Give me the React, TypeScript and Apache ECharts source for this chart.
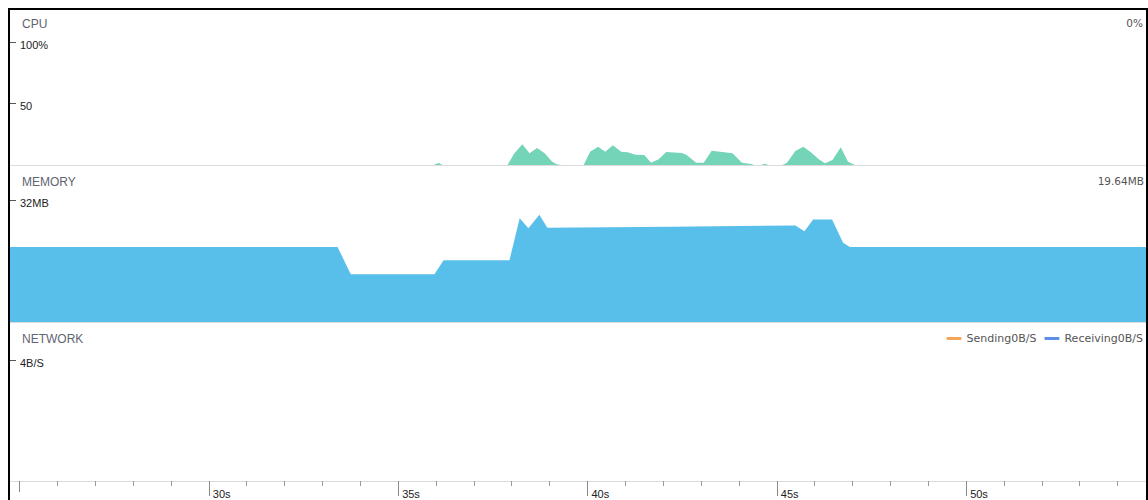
import React, { useEffect, useRef } from "react";
import * as echarts from "echarts";

if (typeof document !== "undefined") {
  document.documentElement.style.overflow = "hidden";
  document.body.style.overflow = "hidden";
  document.body.style.margin = "8px 0 0 8px";
}

// ---- time axis (seconds) ----
const X_MIN = 24.75;
const X_MAX = 54.75;
const firstTickSeconds = [25];
const minorTickSeconds = [26, 27, 28, 29, 31, 32, 33, 34, 36, 37, 38, 39, 41, 42, 43, 44, 46, 47, 48, 49, 51, 52, 53, 54];
const majorTickSeconds = [30, 35, 40, 45, 50];

// ---- CPU (%) ----
const cpuTimes = [24.75, 35.94, 36.07, 36.17, 37.89, 38.07, 38.28, 38.47, 38.67, 38.87, 39.07, 39.19, 39.31, 39.9, 40.07, 40.28, 40.47, 40.67, 40.89, 41.06, 41.27, 41.5, 41.68, 41.88, 42.08, 42.5, 42.62, 42.87, 43.07, 43.28, 43.83, 44.08, 44.32, 44.4, 44.58, 44.69, 44.78, 45.15, 45.27, 45.49, 45.7, 45.9, 46.1, 46.27, 46.47, 46.69, 46.88, 47.06, 54.75];
const cpuValues = [0, 0, 1.6, 0, 0, 9.5, 16.8, 9.5, 13.8, 9.5, 2.7, 0.6, 0, 0, 10.8, 14.9, 10.8, 16.0, 10.8, 10.3, 8.4, 8.1, 1.9, 4.6, 10.6, 9.8, 8.1, 1.9, 1.9, 11.6, 9.5, 1.9, 0.8, 0, 0, 1.1, 0, 0, 1.9, 11.4, 14.9, 10.3, 4.9, 1.4, 4.1, 14.4, 2.7, 0, 0];
const cpuTicks = [50, 100];

// ---- Memory (MB) ----
const memTimes = [24.75, 33.4, 33.75, 35.96, 36.2, 37.94, 38.21, 38.44, 38.73, 38.94, 42.2, 45.49, 45.73, 45.96, 46.46, 46.75, 46.93, 54.75];
const memValues = [19.67, 19.67, 12.5, 12.5, 16.2, 16.2, 27.2, 24.6, 28.1, 24.7, 25.0, 25.3, 23.8, 26.9, 26.9, 20.8, 19.64, 19.64];
const memTicks = [16, 32];

// ---- Network (B/S) ----
const networkNames = ["Sending", "Receiving"];
const sendingValues: number[][] = [];
const receivingValues: number[][] = [];
const networkCurrent = [0, 0];
const netTicks = [4];

const TITLE_FONT = '"Liberation Sans", Arial, sans-serif';
const SMALL_FONT = '"DejaVu Sans", sans-serif';

export default function App() {
  const ref = useRef<HTMLDivElement>(null);

  useEffect(() => {
    document.documentElement.style.overflow = "hidden";
    document.body.style.overflow = "hidden";
    document.body.style.margin = "8px 0 0 8px";
    const chart = echarts.init(ref.current!, null, { renderer: "svg" });

    const baseX = (gridIndex: number) => ({
      type: "value",
      gridIndex,
      position: "bottom",
      min: X_MIN,
      max: X_MAX,
      axisLine: { show: true, lineStyle: { color: "#dcdcdc", width: 1 } },
      axisTick: { show: false },
      axisLabel: { show: false },
      splitLine: { show: false },
    });

    const baseY = (gridIndex: number, max: number, ticks: number[], fmt: (v: number) => string) => ({
      type: "value",
      gridIndex,
      min: 0,
      max,
      position: "left",
      axisLine: { show: false },
      axisTick: { show: true, inside: true, length: 6, lineStyle: { color: "#555" }, customValues: ticks },
      axisLabel: {
        show: true,
        inside: true,
        margin: 10,
        customValues: ticks,
        formatter: (v: number) => `{a|${fmt(v)}}`,
        rich: {
          a: {
            color: "#222",
            fontSize: 11,
            fontFamily: TITLE_FONT,
            padding: [5, 0, 0, 0],
          },
        },
      },
      splitLine: { show: false },
    });

    const lastCpu = cpuValues[cpuValues.length - 1];
    const lastMem = memValues[memValues.length - 1];

    const option: any = {
      animation: false,
      grid: [
        { left: 0, right: 0, top: 32, height: 123 },
        { left: 0, right: 0, top: 190, height: 122 },
        { left: 0, right: 0, top: 350, height: 121 },
      ],
      xAxis: [
        baseX(0),
        baseX(1),
        {
          ...baseX(2),
          axisTick: { show: true, length: 5, lineStyle: { color: "#999" }, customValues: minorTickSeconds },
        },
        {
          ...baseX(2),
          axisLine: { show: false },
          axisTick: { show: true, length: 15, lineStyle: { color: "#888" }, customValues: majorTickSeconds },
          axisLabel: {
            show: true,
            customValues: majorTickSeconds,
            align: "left",
            margin: 7,
            padding: [0, 0, 0, 4],
            color: "#222",
            fontSize: 11,
            fontFamily: TITLE_FONT,
            formatter: (v: number) => `${v}s`,
          },
        },
        {
          ...baseX(2),
          axisLine: { show: false },
          axisTick: { show: true, length: 11, lineStyle: { color: "#888" }, customValues: firstTickSeconds },
        },
      ],
      yAxis: [
        baseY(0, 100, cpuTicks, (v) => (v === 100 ? "100%" : String(v))),
        baseY(1, 32, memTicks, (v) => (v === 32 ? "32MB" : String(v))),
        baseY(2, 4, netTicks, (v) => `${v}B/S`),
      ],
      legend: {
        data: networkNames,
        right: 3,
        top: 323,
        padding: 0,
        icon: "roundRect",
        itemWidth: 15,
        itemHeight: 3,
        itemGap: 8,
        textStyle: { color: "#555", fontSize: 11, fontFamily: SMALL_FONT },
        formatter: (name: string) => `${name}${networkCurrent[networkNames.indexOf(name)]}B/S`,
      },
      graphic: [
        { type: "text", x: 12, y: 13.5, style: { text: "CPU", fill: "#5f6470", fontSize: 12, fontFamily: TITLE_FONT, verticalAlign: "middle" } },
        { type: "text", x: 12, y: 171.5, style: { text: "MEMORY", fill: "#5f6470", fontSize: 12, fontFamily: TITLE_FONT, verticalAlign: "middle" } },
        { type: "text", x: 12, y: 328.5, style: { text: "NETWORK", fill: "#5f6470", fontSize: 12, fontFamily: TITLE_FONT, verticalAlign: "middle" } },
        { type: "text", x: 1133, y: 12.5, style: { text: `${lastCpu}%`, fill: "#555", fontSize: 10.5, fontFamily: SMALL_FONT, align: "right", verticalAlign: "middle" } },
        { type: "text", x: 1134, y: 170.5, style: { text: `${lastMem}MB`, fill: "#555", fontSize: 10.5, fontFamily: SMALL_FONT, align: "right", verticalAlign: "middle" } },
      ],
      series: [
        {
          name: "CPU",
          type: "line",
          xAxisIndex: 0,
          yAxisIndex: 0,
          data: cpuTimes.map((t, i) => [t, cpuValues[i]]),
          symbol: "none",
          silent: true,
          lineStyle: { width: 0, color: "#74d4b7" },
          itemStyle: { color: "#74d4b7" },
          areaStyle: { color: "#74d4b7", opacity: 1 },
        },
        {
          name: "Memory",
          type: "line",
          xAxisIndex: 1,
          yAxisIndex: 1,
          data: memTimes.map((t, i) => [t, memValues[i]]),
          symbol: "none",
          silent: true,
          lineStyle: { width: 0, color: "#58bfeb" },
          itemStyle: { color: "#58bfeb" },
          areaStyle: { color: "#58bfeb", opacity: 1 },
        },
        {
          name: "Sending",
          type: "line",
          xAxisIndex: 2,
          yAxisIndex: 2,
          data: sendingValues,
          symbol: "none",
          itemStyle: { color: "#f6a65b" },
          lineStyle: { color: "#f6a65b", width: 2 },
        },
        {
          name: "Receiving",
          type: "line",
          xAxisIndex: 2,
          yAxisIndex: 2,
          data: receivingValues,
          symbol: "none",
          itemStyle: { color: "#5e8fe8" },
          lineStyle: { color: "#5e8fe8", width: 2 },
        },
      ],
    };

    chart.setOption(option);
    return () => chart.dispose();
  }, []);

  return (
    <div style={{ width: 1136, height: 495, border: "2px solid #000", overflow: "hidden" }}>
      <div ref={ref} style={{ width: 1136, height: 495 }} />
    </div>
  );
}
